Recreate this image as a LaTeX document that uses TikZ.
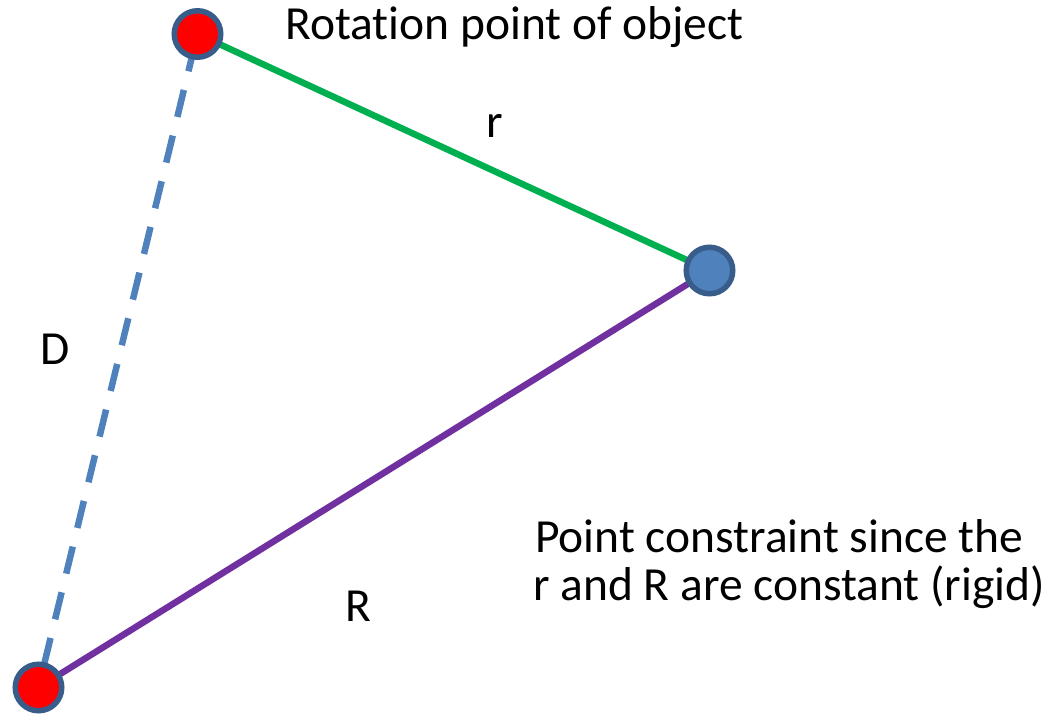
\documentclass[tikz,border=0pt]{standalone}
\usepackage{fontspec}
\setmainfont{Carlito}[Ligatures={NoCommon,NoRare,NoContextual}]
\definecolor{ogreen}{HTML}{00B050}
\definecolor{opurple}{HTML}{7030A0}
\definecolor{oblue}{HTML}{4F81BD}
\definecolor{oborder}{HTML}{385D8A}
\definecolor{ored}{HTML}{FF0000}
\tikzset{
  joint/.style={circle, draw=oborder, line width=5.5pt, minimum size=46.5pt, inner sep=0pt},
  redjoint/.style={joint, fill=ored},
  bluejoint/.style={joint, fill=oblue},
  link/.style={line width=6.5pt},
  lbl/.style={font=\fontsize{47.5}{48}\selectfont, inner sep=0pt, text=black}
}
\begin{document}
\begin{tikzpicture}[x=1pt,y=-1pt]
\useasboundingbox (0,0) rectangle (1061,715);
% positions
\coordinate (pA) at (197.5,34);
\coordinate (pB) at (709.5,270.5);
\coordinate (pC) at (38.5,687.5);
% connectors under the joints
\draw[link, ogreen] (pA) -- (pB);
\draw[link, opurple] (pB) -- (pC);
\draw[link, oblue, dash pattern=on 27.8pt off 19.2pt, dash phase=23.8pt] (pC) -- (pA);
% joints
\node[redjoint] (top) at (pA) {};
\node[bluejoint] (mid) at (pB) {};
\node[redjoint] (bot) at (pC) {};
% labels
\node[lbl, anchor=base west] (rot) at (285,39) {Rotation point of object};
\node[lbl] (lr) at (495,126) {r};
\node[lbl] (lD) at (55.5,349) {D};
\node[lbl] (lR) at (358.5,606.5) {R};
\node[lbl, anchor=base west] (pc1) at (535,552) {Point constraint since the};
\node[lbl, anchor=base west] (pc2) at (533,600) {r and R are constant (rigid)};
\end{tikzpicture}
\end{document}
